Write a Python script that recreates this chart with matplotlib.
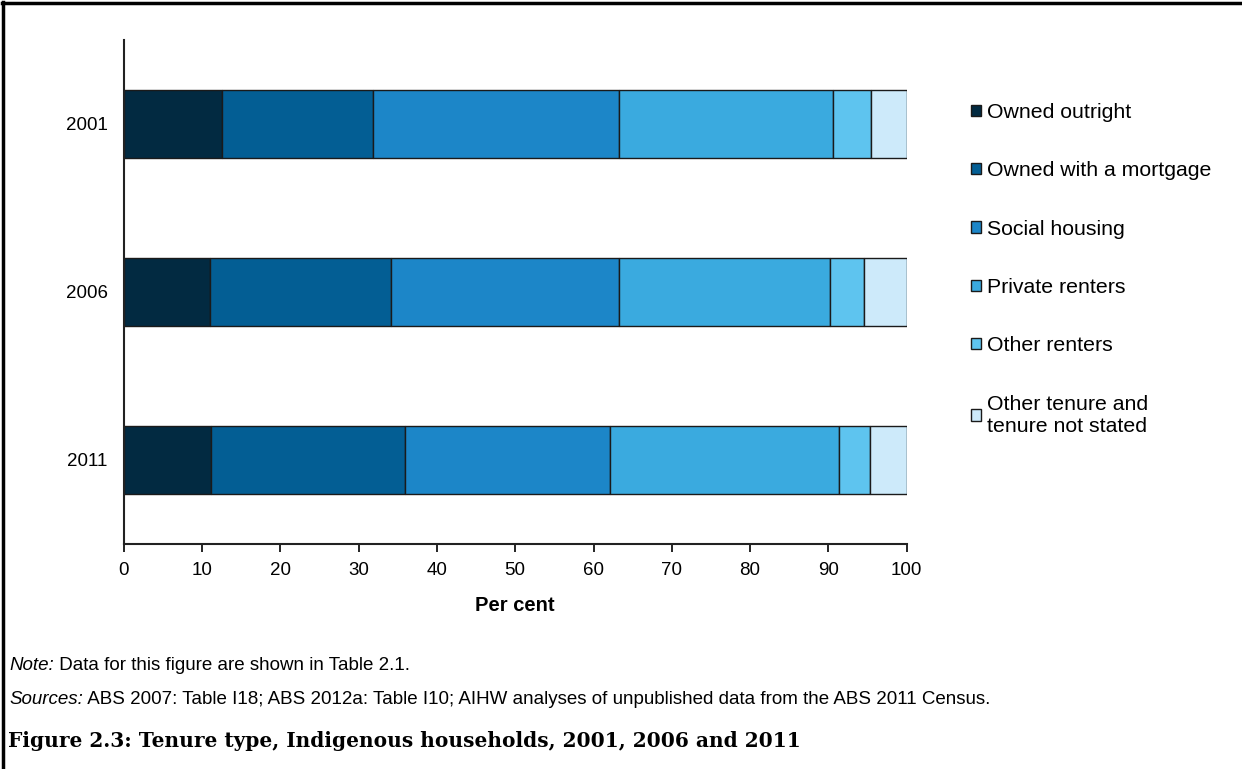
import matplotlib
matplotlib.use("Agg")
import matplotlib.pyplot as plt
from matplotlib.lines import Line2D

# Data (per cent of Indigenous households)
years = ["2001", "2006", "2011"]
categories = ["Owned outright", "Owned with a mortgage", "Social housing",
              "Private renters", "Other renters",
              "Other tenure and\ntenure not stated"]
owned_outright = [12.5, 11.0, 11.1]
owned_mortgage = [19.4, 23.2, 24.8]
social_housing = [31.3, 29.0, 26.2]
private_renters = [27.4, 27.0, 29.2]
other_renters = [4.9, 4.3, 4.0]
other_tenure = [4.5, 5.5, 4.7]
series = [owned_outright, owned_mortgage, social_housing,
          private_renters, other_renters, other_tenure]
colors = ["#022a41", "#035e94", "#1c86c8", "#3aaadf", "#5ec4ef", "#cdeafa"]

plt.rcParams["font.family"] = ["Liberation Sans", "DejaVu Sans"]

fig = plt.figure(figsize=(12.42, 7.69), dpi=100)
ax = fig.add_axes([123.7 / 1242, 1 - 544 / 769, 783 / 1242, 504 / 769])

ypos = list(range(len(years)))
left = [0.0] * len(years)
handles = []
for vals, col, lab in zip(series, colors, categories):
    bars = ax.barh(ypos, vals, left=left, height=0.4, color=col,
                   edgecolor="#1a1a1a", linewidth=1.0, label=lab)
    handles.append(bars)
    left = [l + v for l, v in zip(left, vals)]

ax.set_ylim(2.5, -0.5)
ax.set_xlim(0, 100)
ax.set_xticks(range(0, 101, 10))
ax.set_yticks(ypos)
ax.set_yticklabels(years)
ax.tick_params(axis="y", length=0, pad=11.5, labelsize=13.5)
ax.tick_params(axis="x", length=6, width=1.2, pad=7, labelsize=13.5,
               direction="out")
ax.set_xlabel("Per cent", fontsize=14.5, fontweight="bold", labelpad=12)
for s in ["top", "right"]:
    ax.spines[s].set_visible(False)
for s in ["left", "bottom"]:
    ax.spines[s].set_linewidth(1.5)
    ax.spines[s].set_color("#222222")

ax.legend(handles=handles, loc="upper left",
          bbox_to_anchor=(971 / 1242, 1 - 103 / 769),
          bbox_transform=fig.transFigure, frameon=False,
          fontsize=15.3, handlelength=0.45, handleheight=0.45,
          handletextpad=0.3, labelspacing=1.85, borderpad=0,
          borderaxespad=0)

# Frame lines (top and left) around the figure
fig.add_artist(Line2D([2 / 1242, 1], [1 - 2.5 / 769, 1 - 2.5 / 769],
                      transform=fig.transFigure, color="black", lw=2.5))
fig.add_artist(Line2D([2.5 / 1242, 2.5 / 1242], [0, 1 - 2 / 769],
                      transform=fig.transFigure, color="black", lw=2.5))

# Footnotes with italic lead words
renderer = fig.canvas.get_renderer()
notes = [("Note:", " Data for this figure are shown in Table 2.1.", 665),
         ("Sources:", " ABS 2007: Table I18; ABS 2012a: Table I10; AIHW analyses "
          "of unpublished data from the ABS 2011 Census.", 700)]
for lead, rest, ypix in notes:
    t = fig.text(9 / 1242, 1 - ypix / 769, lead, fontsize=13.5,
                 style="italic", va="center")
    bb = t.get_window_extent(renderer=renderer)
    fig.text(bb.x1 / fig.bbox.width, 1 - ypix / 769, rest, fontsize=13.5,
             va="center")

fig.text(8 / 1242, 1 - 741 / 769,
         "Figure 2.3: Tenure type, Indigenous households, 2001, 2006 and 2011",
         fontsize=14.5, fontweight="bold", family="DejaVu Serif", va="center")

fig.savefig("out.png", dpi=100, facecolor="white")
